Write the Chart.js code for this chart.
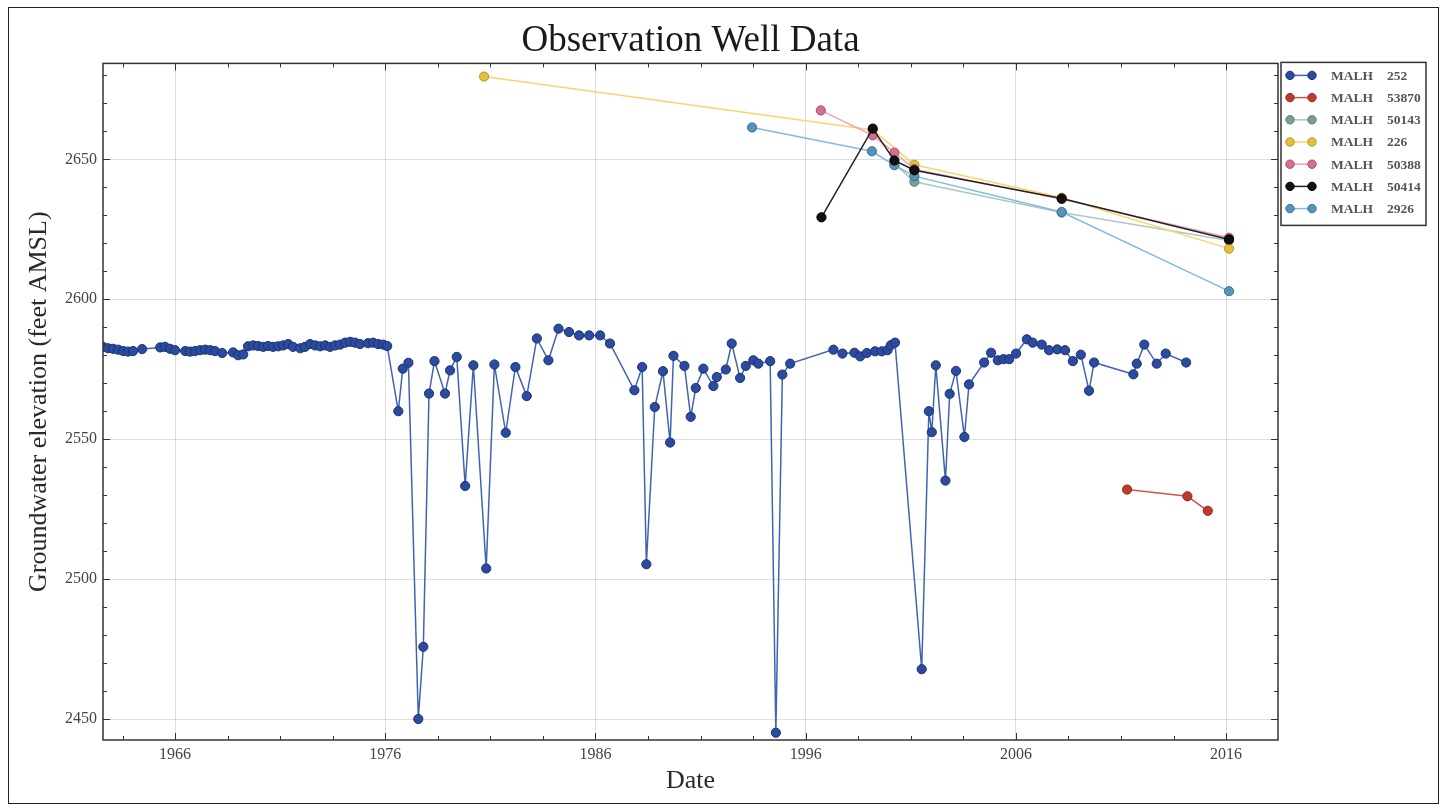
<!DOCTYPE html>
<html>
<head>
<meta charset="utf-8">
<title>Observation Well Data</title>
<script src="https://cdn.jsdelivr.net/npm/chart.js@4.4.1/dist/chart.umd.min.js"></script>
<style>
    html, body { margin: 0; padding: 0; background: #fff; }
    #wrap { position: relative; width: 1448px; height: 810px; }
    #frame {
        position: absolute; left: 8px; top: 7px; width: 1431px; height: 797px;
        border: 1.5px solid #222; pointer-events: none; box-sizing: border-box;
    }
</style>
</head>
<body>
<div id="wrap">
    <canvas id="wellChart" width="1448" height="810"></canvas>
    <div id="frame"></div>
</div>
<script>
// tick labels
const xTicks = [1966, 1976, 1986, 1996, 2006, 2016];
const yTicks = [2450, 2500, 2550, 2600, 2650];

// MALH 252
const years252 = [1962.57, 1962.81, 1963.05, 1963.29, 1963.53, 1963.76, 1964.0, 1964.43, 1965.29, 1965.52,
    1965.76, 1966.0, 1966.48, 1966.71, 1966.95, 1967.19, 1967.43, 1967.67, 1967.9, 1968.24,
    1968.76, 1969.0, 1969.24, 1969.47, 1969.71, 1969.95, 1970.19, 1970.42, 1970.66, 1970.9,
    1971.14, 1971.38, 1971.61, 1971.95, 1972.18, 1972.42, 1972.66, 1972.9, 1973.14, 1973.37,
    1973.61, 1973.85, 1974.09, 1974.33, 1974.56, 1974.8, 1975.18, 1975.42, 1975.66, 1975.9,
    1976.09, 1976.62, 1976.83, 1977.1, 1977.57, 1977.81, 1978.08, 1978.34, 1978.84, 1979.08,
    1979.4, 1979.8, 1980.19, 1980.8, 1981.19, 1981.73, 1982.19, 1982.73, 1983.21, 1983.76,
    1984.24, 1984.74, 1985.22, 1985.7, 1986.22, 1986.69, 1987.85, 1988.22, 1988.42, 1988.82,
    1989.21, 1989.55, 1989.71, 1990.23, 1990.53, 1990.77, 1991.13, 1991.61, 1991.77, 1992.2,
    1992.48, 1992.88, 1993.15, 1993.51, 1993.75, 1994.31, 1994.58, 1994.89, 1995.26, 1997.32,
    1997.75, 1998.32, 1998.59, 1998.91, 1999.3, 1999.62, 1999.89, 2000.05, 2000.25, 2001.52,
    2001.86, 2002.0, 2002.19, 2002.65, 2002.85, 2003.15, 2003.55, 2003.77, 2004.49, 2004.82,
    2005.14, 2005.41, 2005.68, 2006.01, 2006.52, 2006.8, 2007.23, 2007.58, 2007.97, 2008.34,
    2008.71, 2009.09, 2009.48, 2009.72, 2011.59, 2011.75, 2012.11, 2012.7, 2013.13, 2014.1];
const level252 = [2583.0, 2582.5, 2582.3, 2582.0, 2581.5, 2581.3, 2581.5, 2582.2, 2582.8, 2583.0,
    2582.3, 2581.8, 2581.5, 2581.3, 2581.5, 2581.8, 2582.0, 2581.8, 2581.5, 2580.8,
    2581.0, 2580.0, 2580.3, 2583.2, 2583.5, 2583.3, 2583.0, 2583.3, 2583.0, 2583.2,
    2583.5, 2584.0, 2583.0, 2582.5, 2583.0, 2584.0, 2583.5, 2583.2, 2583.5, 2583.0,
    2583.5, 2583.8, 2584.5, 2584.8, 2584.5, 2584.0, 2584.3, 2584.5, 2584.0, 2583.8,
    2583.3, 2560.0, 2575.2, 2577.3, 2450.0, 2475.8, 2566.3, 2577.9, 2566.3, 2574.6,
    2579.4, 2533.3, 2576.4, 2503.8, 2576.7, 2552.3, 2575.8, 2565.4, 2586.0, 2578.2,
    2589.5, 2588.3, 2587.1, 2587.1, 2587.1, 2584.2, 2567.5, 2575.8, 2505.3, 2561.5,
    2574.3, 2548.8, 2579.8, 2576.2, 2558.0, 2568.3, 2575.2, 2569.0, 2572.2, 2574.9,
    2584.2, 2571.9, 2576.2, 2578.2, 2577.0, 2577.9, 2445.1, 2573.1, 2577.0, 2582.0,
    2580.6, 2580.9, 2579.6, 2580.8, 2581.4, 2581.4, 2581.8, 2583.6, 2584.5, 2467.8,
    2560.0, 2552.5, 2576.4, 2535.2, 2566.2, 2574.4, 2550.8, 2569.6, 2577.4, 2580.9,
    2578.2, 2578.6, 2578.6, 2580.6, 2585.7, 2584.5, 2583.8, 2581.8, 2582.1, 2581.8,
    2577.9, 2580.2, 2567.3, 2577.4, 2573.2, 2577.0, 2583.8, 2577.0, 2580.6, 2577.4];

// MALH 53870
const years53870 = [2011.29, 2014.16, 2015.13];
const level53870 = [2532.0, 2529.6, 2524.4];

// MALH 50143
const years50143 = [2000.22, 2001.17, 2008.18, 2016.14];
const level50143 = [2648.5, 2642.0, 2631.0, 2621.0];

// MALH 226
const years226 = [1980.7, 1999.19, 2001.17, 2008.18, 2016.14];
const level226 = [2679.6, 2660.5, 2648.1, 2636.3, 2618.1];

// MALH 50388
const years50388 = [1996.72, 1999.19, 2000.22, 2001.17, 2008.18, 2016.14];
const level50388 = [2667.5, 2658.6, 2652.4, 2646.5, 2635.8, 2622.0];

// MALH 50414
const years50414 = [1996.75, 1999.19, 2000.22, 2001.17, 2008.18, 2016.14];
const level50414 = [2629.3, 2661.0, 2649.6, 2646.1, 2636.0, 2621.4];

// MALH 2926
const years2926 = [1993.45, 1999.15, 2000.22, 2001.17, 2008.18, 2016.14];
const level2926 = [2661.4, 2652.9, 2647.9, 2644.0, 2631.2, 2602.9];

const serif = '"Liberation Serif", "DejaVu Serif", serif';

function toPoints(xs, ys) {
    return xs.map((x, i) => ({ x: x, y: ys[i] }));
}

function series(label, xs, ys, line, fill, edge, order) {
    return {
        label: label,
        data: toPoints(xs, ys),
        borderColor: line,
        borderWidth: 1.5,
        pointBackgroundColor: fill,
        pointBorderColor: edge,
        pointBorderWidth: 1,
        pointRadius: 4.6,
        pointHoverRadius: 4.6,
        tension: 0,
        order: order
    };
}

const datasets = [
    series('MALH 252', years252, level252, '#4262b2', '#2b4b9e', '#1b3374', 6),
    series('MALH 53870', years53870, level53870, '#c85a4e', '#c0392b', '#8e2a20', 5),
    series('MALH 50143', years50143, level50143, '#a9cbbd', '#7a9e90', '#5d8072', 4),
    series('MALH 226', years226, level226, '#f6d66e', '#e6be3a', '#b89528', 3),
    series('MALH 50388', years50388, level50388, '#eea0b8', '#d4708e', '#a8506a', 1),
    series('MALH 50414', years50414, level50414, '#222222', '#111111', '#000000', 0),
    series('MALH 2926', years2926, level2926, '#7fbde0', '#5593b8', '#3a6f90', 2)
];

// frame round the plot with inward ticks on all sides
const frameTicks = {
    id: 'frameTicks',
    afterDraw(chart) {
        const { ctx, chartArea: a, scales: { x, y } } = chart;
        ctx.save();
        ctx.strokeStyle = '#333';
        ctx.lineWidth = 1;
        for (let v = 1963.5; v <= x.max; v += 2.5) {
            const px = Math.round(x.getPixelForValue(v)) + 0.5;
            const len = xTicks.includes(v) ? 7 : 4;
            ctx.beginPath();
            ctx.moveTo(px, a.bottom); ctx.lineTo(px, a.bottom - len);
            ctx.moveTo(px, a.top); ctx.lineTo(px, a.top + len);
            ctx.stroke();
        }
        for (let v = 2450; v <= y.max; v += 10) {
            const py = Math.round(y.getPixelForValue(v)) + 0.5;
            const len = yTicks.includes(v) ? 7 : 4;
            ctx.beginPath();
            ctx.moveTo(a.left, py); ctx.lineTo(a.left + len, py);
            ctx.moveTo(a.right, py); ctx.lineTo(a.right - len, py);
            ctx.stroke();
        }
        ctx.lineWidth = 1.5;
        ctx.strokeRect(a.left, a.top, a.right - a.left, a.bottom - a.top);
        ctx.restore();
    }
};

// legend box at the right of the plot
const wellLegend = {
    id: 'wellLegend',
    afterDraw(chart) {
        const { ctx, chartArea: a } = chart;
        const left = a.right + 3, top = a.top - 1;
        ctx.save();
        ctx.fillStyle = '#fff';
        ctx.fillRect(left, top, 145, 163);
        ctx.strokeStyle = '#333';
        ctx.lineWidth = 1.5;
        ctx.strokeRect(left, top, 145, 163);
        chart.data.datasets.forEach((ds, i) => {
            const cy = top + 13 + i * 22.2;
            ctx.strokeStyle = ds.borderColor;
            ctx.lineWidth = 1.5;
            ctx.beginPath();
            ctx.moveTo(left + 9, cy); ctx.lineTo(left + 31, cy);
            ctx.stroke();
            [left + 9, left + 31].forEach(cx => {
                ctx.beginPath();
                ctx.arc(cx, cy, 4.2, 0, Math.PI * 2);
                ctx.fillStyle = ds.pointBackgroundColor;
                ctx.fill();
                ctx.strokeStyle = ds.pointBorderColor;
                ctx.lineWidth = 1;
                ctx.stroke();
            });
            const parts = ds.label.split(' ');
            ctx.fillStyle = '#555';
            ctx.font = 'bold 13.5px ' + serif;
            ctx.textBaseline = 'middle';
            ctx.textAlign = 'left';
            ctx.fillText(parts[0], left + 50, cy + 1);
            ctx.fillText(parts[1], left + 106, cy + 1);
        });
        ctx.restore();
    }
};

const ctx = document.getElementById('wellChart').getContext('2d');
const wellChart = new Chart(ctx, {
    type: 'line',
    data: { datasets: datasets },
    plugins: [frameTicks, wellLegend],
    options: {
        responsive: false,
        devicePixelRatio: 1,
        animation: false,
        events: [],
        layout: { padding: { left: 20, right: 170, top: 0, bottom: 8 } },
        plugins: {
            legend: { display: false },
            tooltip: { enabled: false },
            title: {
                display: true,
                fullSize: false,
                text: 'Observation Well Data',
                color: '#1a1a1a',
                font: { family: serif, size: 37, weight: 'normal' },
                padding: { top: 19, bottom: 0 }
            }
        },
        scales: {
            x: {
                type: 'linear',
                min: 1962.57,
                max: 2018.47,
                afterBuildTicks: s => { s.ticks = xTicks.map(v => ({ value: v })); },
                afterFit: s => { s.height = 62; },
                ticks: {
                    color: '#444',
                    padding: 5,
                    font: { family: serif, size: 16 },
                    callback: v => String(v)
                },
                grid: { color: 'rgba(0,0,0,0.13)', lineWidth: 1, drawTicks: false },
                border: { display: false },
                title: {
                    display: true,
                    text: 'Date',
                    color: '#2a2a2a',
                    font: { family: serif, size: 26 },
                    padding: { top: 0, bottom: 5 }
                }
            },
            y: {
                type: 'linear',
                min: 2442.5,
                max: 2684.3,
                afterBuildTicks: s => { s.ticks = yTicks.map(v => ({ value: v })); },
                afterFit: s => { s.width = 83; },
                ticks: {
                    color: '#444',
                    padding: 6,
                    font: { family: serif, size: 16 },
                    callback: v => String(v)
                },
                grid: { color: 'rgba(0,0,0,0.13)', lineWidth: 1, drawTicks: false },
                border: { display: false },
                title: {
                    display: true,
                    text: 'Groundwater elevation (feet AMSL)',
                    color: '#2a2a2a',
                    font: { family: serif, size: 26 },
                    padding: { top: 4, bottom: 0 }
                }
            }
        }
    }
});
</script>
</body>
</html>
